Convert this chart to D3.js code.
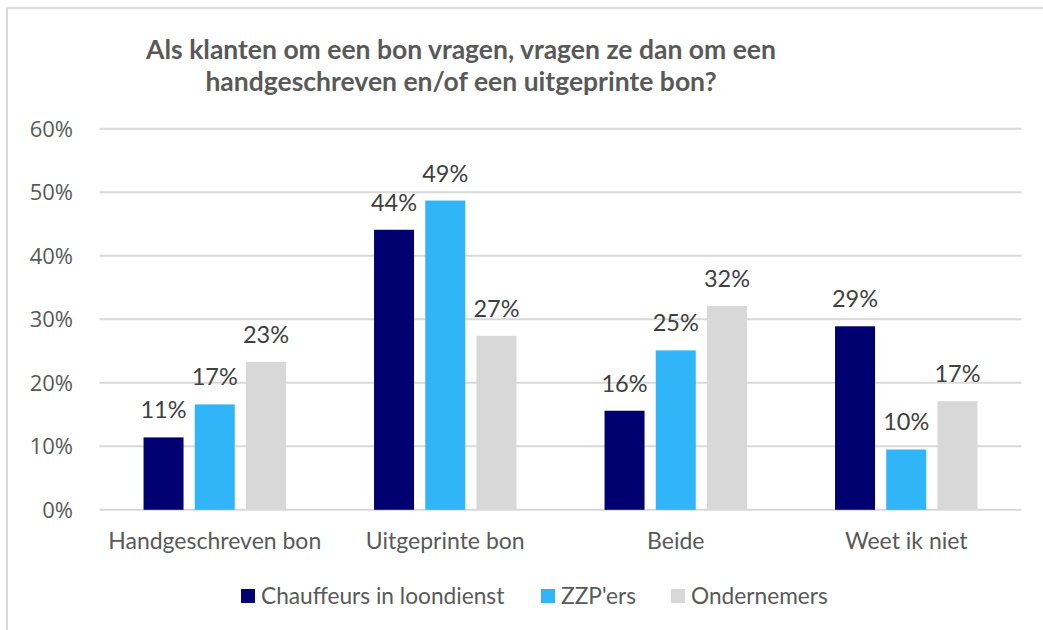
<!DOCTYPE html>
<html>
<head>
<meta charset="utf-8">
<script src="https://cdn.jsdelivr.net/npm/d3@7"></script>
<style>
body { margin: 0; background: #fff; }
text { font-family: Lato, "Open Sans", sans-serif; }
</style>
</head>
<body>
<svg id="chart" width="1043" height="630"></svg>
<script>
// data
var categories = ["Handgeschreven bon", "Uitgeprinte bon", "Beide", "Weet ik niet"];
var seriesNames = ["Chauffeurs in loondienst", "ZZP'ers", "Ondernemers"];
var chauffeurs = [11.4, 44.1, 15.6, 28.9];
var zzpers = [16.6, 48.7, 25.1, 9.5];
var ondernemers = [23.3, 27.4, 32.1, 17.1];
var yTicks = [0, 10, 20, 30, 40, 50, 60];
var titleLines = ["Als klanten om een bon vragen, vragen ze dan om een", "handgeschreven en/of een uitgeprinte bon?"];

var colors = ["#000070", "#2fb5f8", "#d8d8d8"];
var seriesValues = [chauffeurs, zzpers, ondernemers];

var svg = d3.select("#chart");

// chart frame (only top and left edge visible)
svg.append("line").attr("x1", 7).attr("x2", 1043).attr("y1", 8).attr("y2", 8)
  .attr("stroke", "#d9d9d9").attr("stroke-width", 2);
svg.append("line").attr("x1", 7).attr("x2", 7).attr("y1", 8).attr("y2", 630)
  .attr("stroke", "#d9d9d9").attr("stroke-width", 2);

// title
svg.append("g").selectAll("text").data(titleLines).enter()
  .append("text")
  .attr("x", 461)
  .attr("y", function(d, i) { return 59 + i * 32; })
  .attr("text-anchor", "middle")
  .style("font-weight", "bold")
  .style("font-size", "26.5px")
  .style("fill", "#595959")
  .text(function(d) { return d; });

var x0 = d3.scaleBand().domain(categories).range([99.5, 1021.5]).padding(0);
var x1 = d3.scaleBand().domain(seriesNames).range([0, x0.bandwidth()])
  .paddingInner(0.219).paddingOuter(0.86);
var y = d3.scaleLinear().domain([0, 60]).range([509.8, 128.8]);

// gridlines
svg.append("g").selectAll("line").data(yTicks).enter()
  .append("line")
  .attr("x1", 99.5).attr("x2", 1021.5)
  .attr("y1", function(d) { return y(d); })
  .attr("y2", function(d) { return y(d); })
  .attr("stroke", "#d9d9d9").attr("stroke-width", 2);

// y tick labels
svg.append("g").selectAll("text").data(yTicks).enter()
  .append("text")
  .attr("x", 73)
  .attr("y", function(d) { return y(d); })
  .attr("dy", "0.35em")
  .attr("text-anchor", "end")
  .style("font-family", "'Open Sans', sans-serif")
  .style("font-size", "22px")
  .style("fill", "#595959")
  .text(function(d) { return d + "%"; });

// bars
var rows = [];
categories.forEach(function(c, ci) {
  seriesNames.forEach(function(s, si) {
    rows.push({ cat: c, series: s, si: si, value: seriesValues[si][ci] });
  });
});

var bars = svg.append("g");
bars.selectAll("rect").data(rows).enter()
  .append("rect")
  .attr("x", function(d) { return x0(d.cat) + x1(d.series); })
  .attr("y", function(d) { return y(d.value); })
  .attr("width", x1.bandwidth())
  .attr("height", function(d) { return y(0) - y(d.value); })
  .attr("fill", function(d) { return colors[d.si]; });

// data labels
bars.selectAll("text").data(rows).enter()
  .append("text")
  .attr("x", function(d) { return x0(d.cat) + x1(d.series) + x1.bandwidth() / 2; })
  .attr("y", function(d) { return y(d.value) - 19; })
  .attr("text-anchor", "middle")
  .style("font-size", "23.5px")
  .style("fill", "#404040")
  .text(function(d) { return Math.round(d.value) + "%"; });

// category labels
svg.append("g").selectAll("text").data(categories).enter()
  .append("text")
  .attr("x", function(d) { return x0(d) + x0.bandwidth() / 2; })
  .attr("y", 549)
  .attr("text-anchor", "middle")
  .style("font-size", "23px")
  .style("fill", "#595959")
  .text(function(d) { return d; });

// legend
var legendX = [241, 541, 671];
var legend = svg.append("g").selectAll("g").data(seriesNames).enter()
  .append("g")
  .attr("transform", function(d, i) { return "translate(" + legendX[i] + ",589)"; });
legend.append("rect")
  .attr("width", 14).attr("height", 14)
  .attr("fill", function(d, i) { return colors[i]; });
legend.append("text")
  .attr("x", 20).attr("y", 7).attr("dy", "0.36em")
  .style("font-size", "22.7px")
  .style("fill", "#595959")
  .text(function(d) { return d; });
</script>
</body>
</html>
